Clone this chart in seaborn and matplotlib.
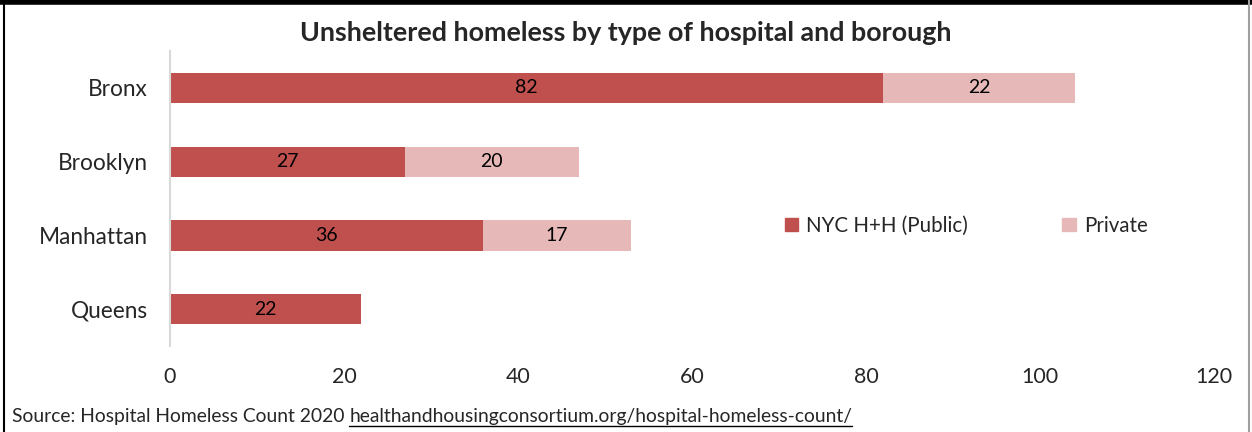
import numpy as np
import pandas as pd
import matplotlib
matplotlib.use("Agg")
import matplotlib.pyplot as plt
import seaborn as sns
from matplotlib.lines import Line2D
from matplotlib.patches import Patch

# data
boroughs = ["Bronx", "Brooklyn", "Manhattan", "Queens"]
public = [82, 27, 36, 22]
private = [22, 20, 17, 0]
x_ticks = [0, 20, 40, 60, 80, 100, 120]

PUBLIC_COLOR = "#C0504D"
PRIVATE_COLOR = "#E6B9B8"

sns.set_theme(style="white")
plt.rcParams["font.family"] = ["Lato", "DejaVu Sans"]

df = pd.DataFrame({"borough": boroughs, "public": public, "private": private})
df["total"] = df["public"] + df["private"]

fig = plt.figure(figsize=(12.52, 4.32), dpi=100)
ax = fig.add_axes([0.1358, 0.199, 0.9696 - 0.1358, 0.882 - 0.199])

# stacked bars: total in light colour, public drawn over it
sns.barplot(data=df, x="total", y="borough", color=PRIVATE_COLOR, width=0.41,
            saturation=1, linewidth=0, ax=ax)
sns.barplot(data=df, x="public", y="borough", color=PUBLIC_COLOR, width=0.41,
            saturation=1, linewidth=0, ax=ax)

# segment labels
priv_bars = ax.containers[0]
pub_bars = ax.containers[1]
ax.bar_label(pub_bars, labels=[str(v) for v in public], label_type="center",
             fontsize=14, color="black")
for rect, p, v in zip(priv_bars, public, private):
    if v > 0:
        ax.text(p + v / 2, rect.get_y() + rect.get_height() / 2, str(v),
                ha="center", va="center", fontsize=14, color="black")

ax.set_xlim(0, 120)
ax.set_ylim(3.5, -0.5)
ax.set_xticks(x_ticks)
ax.set_xticklabels([str(t) for t in x_ticks], fontsize=15.4)
ax.tick_params(axis="y", labelsize=16.3, pad=16, length=0)
ax.tick_params(axis="x", pad=15, length=0)
ax.set_xlabel("")
ax.set_ylabel("")
for side in ["top", "right", "bottom"]:
    ax.spines[side].set_visible(False)
ax.spines["left"].set_color("#D9D9D9")
ax.spines["left"].set_linewidth(1.5)

handles = [Patch(color=PUBLIC_COLOR, label="NYC H+H (Public)"),
           Patch(color=PRIVATE_COLOR, label="Private")]
ax.legend(handles=handles, loc="center left", bbox_to_anchor=(0.571, 0.408),
          ncol=2, frameon=False, fontsize=14.8, handlelength=0.65, handleheight=0.65,
          handletextpad=0.4, columnspacing=4.6)

fig.text(0.5, 0.923, "Unsheltered homeless by type of hospital and borough",
         ha="center", va="center", fontsize=19.4, fontweight="bold")

# source line with underlined link
src = fig.text(0.0096, 0.037, "Source: Hospital Homeless Count 2020 ",
               ha="left", va="center", fontsize=13.9)
fig.canvas.draw()
renderer = fig.canvas.get_renderer()
bb = src.get_window_extent(renderer)
x_url = bb.x1 / fig.bbox.width
url = fig.text(x_url, 0.037, "healthandhousingconsortium.org/hospital-homeless-count/",
               ha="left", va="center", fontsize=13.9)
fig.canvas.draw()
ub = url.get_window_extent(renderer)
y_line = (ub.y0 - 1) / fig.bbox.height
fig.add_artist(Line2D([ub.x0 / fig.bbox.width, ub.x1 / fig.bbox.width],
                      [y_line, y_line], color="black", linewidth=1))

# outer frame: thick top, thin sides
fig.add_artist(Line2D([0, 1], [0.995, 0.995], color="black", linewidth=4))
fig.add_artist(Line2D([0.003, 0.003], [0, 1], color="black", linewidth=1.5))
fig.add_artist(Line2D([0.998, 0.998], [0, 1], color="#A0A0A0", linewidth=1.5))

fig.savefig("out.png", dpi=100)
